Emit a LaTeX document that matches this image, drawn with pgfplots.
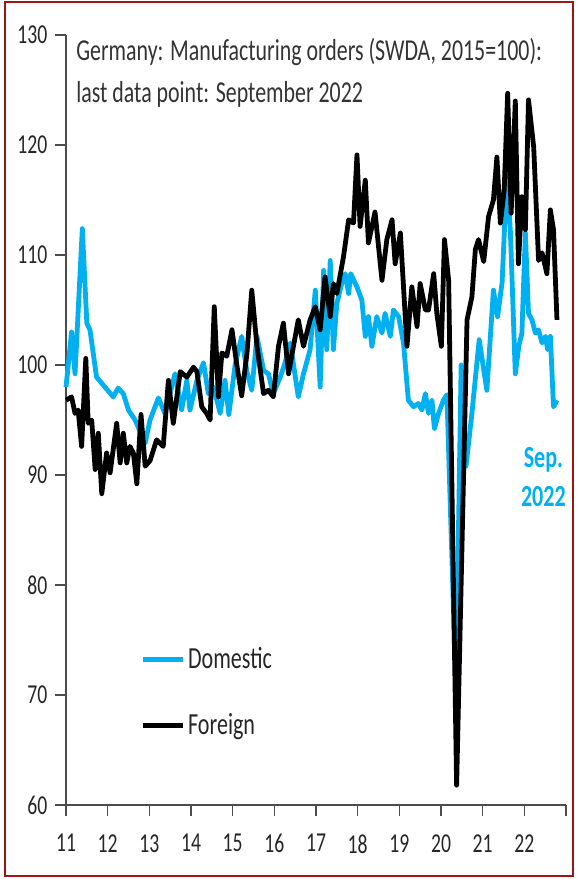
\documentclass[border=0pt]{standalone}
\usepackage{fontspec}
\setmainfont{Carlito}[FakeStretch=0.72]
\usepackage{pgfplots}
\pgfplotsset{compat=1.18}
\usepackage{pgfplotstable}
\definecolor{dom}{RGB}{0,176,240}
\definecolor{framered}{RGB}{160,22,22}

\pgfplotstableread{
m v
0 98.0
1.6 103.0
2.6 99.2
4.7 112.4
6.0 103.8
6.9 103.2
8.8 98.9
11.2 98.0
13.6 97.1
15.0 97.9
16.5 97.4
18.0 95.9
19.9 95.0
22.8 92.9
24.2 95.0
26.6 97.0
28.5 95.6
31.4 99.2
33.3 95.9
34.8 98.6
35.7 95.9
37.7 98.6
39.6 100.2
41.0 97.4
42.5 98.0
44.4 95.6
45.8 98.6
46.9 95.5
48.7 100.0
50.6 102.6
52.1 99.4
53.5 97.7
55.0 102.6
56.9 99.5
58.3 99.2
59.7 97.4
61.7 98.9
63.1 100.2
64.6 102.0
66.9 97.1
68.4 99.2
70.3 101.4
71.8 106.8
73.2 98.0
74.2 108.6
75.1 101.4
76.1 109.5
77.0 101.4
78.0 105.6
79.4 107.4
80.4 108.3
81.4 106.5
82.0 108.3
83.8 107.1
85.2 105.9
86.2 102.6
87.1 104.4
88.1 101.7
89.5 104.4
91.0 102.9
91.9 104.7
93.4 102.6
94.3 105.0
95.8 104.4
97.2 102.0
98.6 96.8
100.1 96.2
101.5 96.5
102.5 95.9
103.5 97.4
104.4 95.6
105.4 96.8
106.1 94.2
107.3 95.6
108.7 96.8
109.7 97.3
112.3 70.5
113.8 100.0
115.2 90.8
116.9 95.6
119.0 102.3
121.2 97.7
123.1 106.8
124.3 104.4
125.6 107.5
127.0 117.5
128.0 112.0
129.4 99.2
130.4 101.7
131.3 102.9
132.3 112.0
133.2 104.7
134.2 104.1
135.2 102.9
136.1 103.2
137.1 102.0
138.1 102.6
138.7 101.4
139.5 102.6
140.4 96.2
141.4 96.8
}\domestic

\pgfplotstableread{
m v
0 96.8
1.6 97.1
2.6 95.6
3.5 95.9
4.5 92.6
5.7 100.6
6.4 94.7
7.4 95.0
8.4 90.5
9.3 93.8
10.3 88.3
11.7 92.0
12.7 90.2
14.6 94.7
15.6 91.1
16.5 93.8
17.5 91.1
18.4 92.6
19.4 92.0
20.4 89.2
21.6 95.5
22.8 90.8
24.2 91.3
26.1 93.2
28.0 92.6
29.5 98.6
30.9 94.7
32.9 99.4
34.8 98.9
36.7 99.8
37.7 99.4
39.1 96.2
40.5 95.6
41.5 95.0
42.7 105.3
43.9 97.1
44.9 101.1
46.3 100.8
47.8 103.2
49.2 100.0
50.6 97.2
52.1 101.0
53.5 106.8
55.0 101.7
56.9 97.4
58.3 97.7
59.7 97.1
61.2 101.7
62.6 103.8
64.1 99.2
65.5 101.7
66.9 104.1
68.4 101.7
70.3 104.1
71.8 105.3
73.2 103.2
74.6 108.0
76.1 104.4
77.0 107.4
78.0 106.5
79.9 109.8
81.4 113.2
82.8 112.9
83.8 119.1
84.7 112.6
86.2 116.8
87.1 111.1
89.0 113.9
91.0 107.7
92.4 111.4
93.9 113.2
94.8 109.2
96.3 112.0
98.2 101.7
99.6 107.1
101.1 103.5
102.0 107.4
103.5 105.0
104.4 105.0
105.9 108.3
106.8 104.7
108.1 101.7
109.0 111.4
110.2 107.7
112.5 61.8
115.5 104.1
116.9 106.2
117.9 110.5
118.8 111.4
120.3 109.4
121.7 113.5
123.1 115.0
124.1 118.9
125.1 112.9
126.2 115.9
127.2 124.7
128.2 113.8
129.4 124.0
130.3 109.2
131.3 115.3
132.3 112.3
133.2 124.1
134.7 119.8
136.1 109.5
137.1 110.2
138.5 108.3
139.5 114.1
140.4 112.3
141.4 104.1
}\foreign

\begin{document}
\begin{tikzpicture}[x=1pt,y=1pt]
\useasboundingbox (0,0) rectangle (432.75,659.25);
\draw[framered, line width=1.5pt] (3.75,2.25) rectangle (429.75,657.75);
\begin{axis}[
  at={(49.5pt,55.5pt)}, anchor=south west,
  scale only axis, width=375pt, height=577.5pt,
  xmin=0, xmax=144, ymin=60, ymax=130,
  axis lines=left,
  axis line style={-, black!70, line width=0.8pt},
  xtick={0,12,...,144},
  xticklabels={11,12,13,14,15,16,17,18,19,20,21,22,},
  ytick={60,70,...,130},
  tick align=outside, major tick length=8.5pt,
  tick style={black!70, line width=0.8pt},
  tick label style={font=\fontsize{20.5}{24}\selectfont, text=black!85},
  /pgf/number format/assume math mode=true,
  yticklabel style={xshift=-2pt},
  xticklabel style={yshift=-10pt},
  clip=false,
  legend cell align=left,
  legend style={at={(0.148,0.208)}, anchor=north west, draw=none, fill=none,
    inner sep=0pt, row sep=28pt, font=\fontsize{23}{28}\selectfont, text=black!85},
  legend image code/.code={\draw[#1, line width=3.9pt] (0pt,0pt) -- (30pt,0pt);},
]
\addplot[dom, line width=3.6pt, line join=round] table[x=m, y=v] {\domestic};
\addlegendentry{Domestic}
\addplot[black, line width=3.6pt, line join=round] table[x=m, y=v] {\foreign};
\addlegendentry{Foreign}
\node[anchor=north west, align=left, inner sep=0pt, text=black!80,
  font=\fontsize{22.8}{31.5}\selectfont] at (axis cs:2.9,129.7)
  {Germany: Manufacturing orders (SWDA, 2015=100):\\last data point: September 2022};
\node[text=dom, align=center, inner sep=0pt,
  font=\bfseries\fontsize{23}{29}\selectfont] at (axis cs:137.5,89.8) {Sep.\\2022};
\end{axis}
\end{tikzpicture}
\end{document}
